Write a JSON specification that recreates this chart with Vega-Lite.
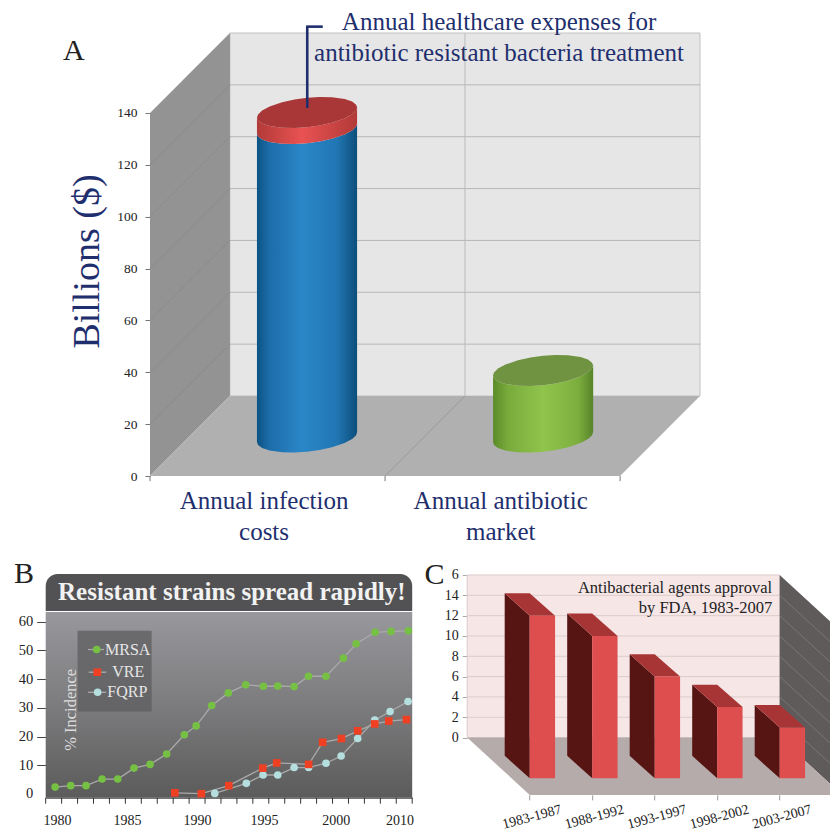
{
"$schema":"https://vega.github.io/schema/vega-lite/v6.json",
"autosize":{"type":"none"},
"padding":{"left":45.7,"right":784.3,"top":33,"bottom":802},
"background":"white",
"config":{"font":"Liberation Serif","view":{"stroke":null},"text":{"font":"Liberation Serif"},"axis":{"grid":false,"labelOverlap":false,"labelFont":"Liberation Serif","titleFont":"Liberation Serif"}},
"datasets":{
"cylinders":[
{"part":"blueBody","x":0.455,"y":13.07,"y2":132.07},{"part":"blueBody","x":0.46,"y":11.98,"y2":130.98},{"part":"blueBody","x":0.477,"y":10.79,"y2":129.79},{"part":"blueBody","x":0.509,"y":9.8,"y2":128.8},{"part":"blueBody","x":0.562,"y":9.12,"y2":128.12},{"part":"blueBody","x":0.615,"y":9.03,"y2":128.03},{"part":"blueBody","x":0.668,"y":9.33,"y2":128.33},{"part":"blueBody","x":0.721,"y":9.99,"y2":128.99},{"part":"blueBody","x":0.774,"y":11.06,"y2":130.06},{"part":"blueBody","x":0.828,"y":12.7,"y2":131.7},{"part":"blueBody","x":0.86,"y":14.27,"y2":133.27},{"part":"blueBody","x":0.877,"y":15.76,"y2":134.76},{"part":"blueBody","x":0.881,"y":16.93,"y2":135.93},
{"part":"redBand","x":0.455,"y":132.07,"y2":138.27},{"part":"redBand","x":0.46,"y":130.98,"y2":137.18},{"part":"redBand","x":0.477,"y":129.79,"y2":135.99},{"part":"redBand","x":0.509,"y":128.8,"y2":135},{"part":"redBand","x":0.562,"y":128.12,"y2":134.32},{"part":"redBand","x":0.615,"y":128.03,"y2":134.23},{"part":"redBand","x":0.668,"y":128.33,"y2":134.53},{"part":"redBand","x":0.721,"y":128.99,"y2":135.19},{"part":"redBand","x":0.774,"y":130.06,"y2":136.26},{"part":"redBand","x":0.828,"y":131.7,"y2":137.9},{"part":"redBand","x":0.86,"y":133.27,"y2":139.47},{"part":"redBand","x":0.877,"y":134.76,"y2":140.96},{"part":"redBand","x":0.881,"y":135.93,"y2":142.13},
{"part":"redCap","x":0.455,"y":138.27,"y2":138.27},{"part":"redCap","x":0.46,"y":137.18,"y2":139.44},{"part":"redCap","x":0.477,"y":135.99,"y2":140.93},{"part":"redCap","x":0.509,"y":135,"y2":142.5},{"part":"redCap","x":0.562,"y":134.32,"y2":144.14},{"part":"redCap","x":0.615,"y":134.23,"y2":145.21},{"part":"redCap","x":0.668,"y":134.53,"y2":145.87},{"part":"redCap","x":0.721,"y":135.19,"y2":146.17},{"part":"redCap","x":0.774,"y":136.26,"y2":146.08},{"part":"redCap","x":0.828,"y":137.9,"y2":145.4},{"part":"redCap","x":0.86,"y":139.47,"y2":144.41},{"part":"redCap","x":0.877,"y":140.96,"y2":143.22},{"part":"redCap","x":0.881,"y":142.13,"y2":142.13},
{"part":"greenBody","x":1.468,"y":13.07,"y2":38.77},{"part":"greenBody","x":1.472,"y":11.98,"y2":37.68},{"part":"greenBody","x":1.489,"y":10.79,"y2":36.49},{"part":"greenBody","x":1.521,"y":9.8,"y2":35.5},{"part":"greenBody","x":1.574,"y":9.12,"y2":34.82},{"part":"greenBody","x":1.628,"y":9.03,"y2":34.73},{"part":"greenBody","x":1.681,"y":9.33,"y2":35.03},{"part":"greenBody","x":1.734,"y":9.99,"y2":35.69},{"part":"greenBody","x":1.787,"y":11.06,"y2":36.76},{"part":"greenBody","x":1.84,"y":12.7,"y2":38.4},{"part":"greenBody","x":1.872,"y":14.27,"y2":39.97},{"part":"greenBody","x":1.889,"y":15.76,"y2":41.46},{"part":"greenBody","x":1.894,"y":16.93,"y2":42.63},
{"part":"greenCap","x":1.468,"y":38.77,"y2":38.77},{"part":"greenCap","x":1.472,"y":37.68,"y2":39.94},{"part":"greenCap","x":1.489,"y":36.49,"y2":41.43},{"part":"greenCap","x":1.521,"y":35.5,"y2":43},{"part":"greenCap","x":1.574,"y":34.82,"y2":44.64},{"part":"greenCap","x":1.628,"y":34.73,"y2":45.71},{"part":"greenCap","x":1.681,"y":35.03,"y2":46.37},{"part":"greenCap","x":1.734,"y":35.69,"y2":46.67},{"part":"greenCap","x":1.787,"y":36.76,"y2":46.58},{"part":"greenCap","x":1.84,"y":38.4,"y2":45.9},{"part":"greenCap","x":1.872,"y":39.97,"y2":44.91},{"part":"greenCap","x":1.889,"y":41.46,"y2":43.72},{"part":"greenCap","x":1.894,"y":42.63,"y2":42.63}
],
"costLevels":[{"level":0,"back":30.85},{"level":20,"back":50.85},{"level":40,"back":70.85},{"level":60,"back":90.85},{"level":80,"back":110.85},{"level":100,"back":130.85},{"level":120,"back":150.85},{"level":140,"back":170.85}],
"resistance":[
{"series":"MRSA","step":0.59,"incidence":2.4},{"series":"MRSA","step":1.57,"incidence":2.9},{"series":"MRSA","step":2.53,"incidence":2.9},{"series":"MRSA","step":3.54,"incidence":5.2},{"series":"MRSA","step":4.52,"incidence":5.2},{"series":"MRSA","step":5.54,"incidence":9},{"series":"MRSA","step":6.55,"incidence":10.3},{"series":"MRSA","step":7.59,"incidence":13.9},{"series":"MRSA","step":8.7,"incidence":20.6},{"series":"MRSA","step":9.44,"incidence":23.7},{"series":"MRSA","step":10.42,"incidence":30.8},{"series":"MRSA","step":11.46,"incidence":35.2},{"series":"MRSA","step":12.55,"incidence":38},{"series":"MRSA","step":13.66,"incidence":37.5},{"series":"MRSA","step":14.56,"incidence":37.6},{"series":"MRSA","step":15.59,"incidence":37.4},{"series":"MRSA","step":16.49,"incidence":41},{"series":"MRSA","step":17.59,"incidence":41},{"series":"MRSA","step":18.68,"incidence":47.3},{"series":"MRSA","step":19.48,"incidence":52.3},{"series":"MRSA","step":20.67,"incidence":56.3},{"series":"MRSA","step":21.67,"incidence":56.6},{"series":"MRSA","step":22.76,"incidence":56.8},
{"series":"VRE","step":8.1,"incidence":0.4},{"series":"VRE","step":9.77,"incidence":0.1},{"series":"VRE","step":11.49,"incidence":2.9},{"series":"VRE","step":13.62,"incidence":9},{"series":"VRE","step":14.5,"incidence":10.8},{"series":"VRE","step":16.5,"incidence":10.3},{"series":"VRE","step":17.38,"incidence":18},{"series":"VRE","step":18.56,"incidence":19.3},{"series":"VRE","step":19.58,"incidence":22},{"series":"VRE","step":20.65,"incidence":24.4},{"series":"VRE","step":21.53,"incidence":25.4},{"series":"VRE","step":22.64,"incidence":25.9},
{"series":"FQRP","step":10.61,"incidence":0.2},{"series":"FQRP","step":12.59,"incidence":3.7},{"series":"FQRP","step":13.64,"incidence":6.6},{"series":"FQRP","step":14.56,"incidence":6.6},{"series":"FQRP","step":15.59,"incidence":9.2},{"series":"FQRP","step":16.5,"incidence":9.2},{"series":"FQRP","step":17.59,"incidence":10.7},{"series":"FQRP","step":18.54,"incidence":13.2},{"series":"FQRP","step":19.58,"incidence":19.3},{"series":"FQRP","step":20.65,"incidence":25.7},{"series":"FQRP","step":21.61,"incidence":28.7},{"series":"FQRP","step":22.74,"incidence":32.2}
],
"legendEntries":[
{"series":"MRSA","key":3.2,"stub":2.66,"stubEnd":3.66,"labelAt":3.72,"row":50.3},
{"series":"VRE","key":3.24,"stub":2.7,"stubEnd":3.8,"labelAt":4.18,"row":42.4},
{"series":"FQRP","key":3.26,"stub":2.66,"stubEnd":3.8,"labelAt":3.87,"row":35.4}
],
"yearTicks":[{"t":0},{"t":1},{"t":2},{"t":3},{"t":4},{"t":5},{"t":6},{"t":7},{"t":8},{"t":9},{"t":10},{"t":11},{"t":12},{"t":13},{"t":14},{"t":15},{"t":16},{"t":17},{"t":18},{"t":19},{"t":20},{"t":21},{"t":22},{"t":23}],
"approvals":[
{"period":"1983-1987","pos":0,"edge":0.406,"approved":16},
{"period":"1988-1992","pos":1,"edge":1.406,"approved":14},
{"period":"1993-1997","pos":2,"edge":2.406,"approved":10},
{"period":"1998-2002","pos":3,"edge":3.406,"approved":7},
{"period":"2003-2007","pos":4,"edge":4.406,"approved":5}
],
"barSides":[
{"period":"1983-1987","x":-0.4,"low":2.2,"high":18.2},{"period":"1983-1987","x":0,"low":0,"high":16},
{"period":"1988-1992","x":0.6,"low":2.2,"high":16.2},{"period":"1988-1992","x":1,"low":0,"high":14},
{"period":"1993-1997","x":1.6,"low":2.2,"high":12.2},{"period":"1993-1997","x":2,"low":0,"high":10},
{"period":"1998-2002","x":2.6,"low":2.2,"high":9.2},{"period":"1998-2002","x":3,"low":0,"high":7},
{"period":"2003-2007","x":3.6,"low":2.2,"high":7.2},{"period":"2003-2007","x":4,"low":0,"high":5}
],
"barTops":[
{"period":"1983-1987","y":18.2,"x":-0.4,"x2":0},{"period":"1983-1987","y":16,"x":0,"x2":0.406},
{"period":"1988-1992","y":16.2,"x":0.6,"x2":1},{"period":"1988-1992","y":14,"x":1,"x2":1.406},
{"period":"1993-1997","y":12.2,"x":1.6,"x2":2},{"period":"1993-1997","y":10,"x":2,"x2":2.406},
{"period":"1998-2002","y":9.2,"x":2.6,"x2":3},{"period":"1998-2002","y":7,"x":3,"x2":3.406},
{"period":"2003-2007","y":7.2,"x":3.6,"x2":4},{"period":"2003-2007","y":5,"x":4,"x2":4.406}
],
"approvalGrid":[{"level":0,"side":-5.64},{"level":2,"side":-3.64},{"level":4,"side":-1.64},{"level":6,"side":0.36},{"level":8,"side":2.36},{"level":10,"side":4.36},{"level":12,"side":6.36},{"level":14,"side":8.36},{"level":16,"side":10.36}]
},
"vconcat":[
{
"width":654.3,"height":443,
"layer":[
{"data":{"values":[{}]},"mark":{"type":"rect","color":"#e6e6e6","stroke":"#c2c2c2","strokeWidth":1},
 "encoding":{
  "x":{"datum":0.34,"type":"quantitative","scale":{"domain":[-0.4438,2.34],"nice":false,"zero":false},
   "axis":{"values":[0.483,1.49],"title":"","domain":false,"ticks":false,"labelExpr":"datum.value<1?['Annual infection','costs']:['Annual antibiotic','market']","labelFontSize":25,"labelLineHeight":31,"labelColor":"#1f2f6e","labelPadding":12,"labelBaseline":"top"}},
  "x2":{"datum":2.34},
  "y":{"datum":30.85,"type":"quantitative","scale":{"domain":[0,170.85],"nice":false,"zero":false},
   "axis":{"values":[0,20,40,60,80,100,120,140],"tickCount":20,"offset":-104.3,"title":"Billions ($)","titleFontSize":38,"titleColor":"#1f2f6e","titleX":-63,"titleY":228,"titleAnchor":"middle","titleBaseline":"middle","titleFontWeight":"normal","domain":false,"tickSize":5,"tickColor":"#777777","labelFontSize":13.5,"labelColor":"#222222","labelPadding":8}},
  "y2":{"datum":170.85}}},
{"data":{"name":"costLevels"},"transform":[{"filter":"datum.level>0 && datum.level<140"}],"mark":{"type":"rule","color":"#bab6b6","strokeWidth":1},
 "encoding":{"x":{"datum":0.34,"type":"quantitative"},"x2":{"datum":2.34},"y":{"field":"back","type":"quantitative"}}},
{"data":{"values":[{}]},"mark":{"type":"rule","color":"#bcbcbc","strokeWidth":1},
 "encoding":{"x":{"datum":1.34,"type":"quantitative"},"y":{"datum":30.85,"type":"quantitative"},"y2":{"datum":170.85}}},
{"data":{"values":[{"x":0,"y":0,"y2":140},{"x":0.34,"y":30.85,"y2":170.85}]},"mark":{"type":"area","color":"#939393","orient":"vertical"},
 "encoding":{"x":{"field":"x","type":"quantitative"},"y":{"field":"y","type":"quantitative","stack":null},"y2":{"field":"y2"}}},
{"data":{"values":[{"y":0,"x":0,"x2":2},{"y":30.85,"x":0.34,"x2":2.34}]},"mark":{"type":"area","color":"#b0b0b0","orient":"horizontal"},
 "encoding":{"y":{"field":"y","type":"quantitative"},"x":{"field":"x","type":"quantitative","stack":null},"x2":{"field":"x2"}}},
{"data":{"name":"costLevels"},"transform":[{"filter":"datum.level>0 && datum.level<140"}],"mark":{"type":"rule","color":"#8b8b8b","strokeWidth":1},
 "encoding":{"x":{"datum":0,"type":"quantitative"},"x2":{"datum":0.34},"y":{"field":"level","type":"quantitative"},"y2":{"field":"back"}}},
{"data":{"values":[{}]},"mark":{"type":"rule","color":"#9c9c9c","strokeWidth":1},
 "encoding":{"x":{"datum":1,"type":"quantitative"},"x2":{"datum":1.34},"y":{"datum":0,"type":"quantitative"},"y2":{"datum":30.85}}},
{"data":{"name":"cylinders"},"transform":[{"filter":"datum.part==='blueBody'"}],
 "mark":{"type":"area","orient":"vertical","color":{"gradient":"linear","x1":0,"y1":0,"x2":1,"y2":0,"stops":[{"offset":0,"color":"#0b5383"},{"offset":0.12,"color":"#1c6ca9"},{"offset":0.45,"color":"#2b87c8"},{"offset":0.8,"color":"#2176b3"},{"offset":1,"color":"#0c4e7b"}]}},
 "encoding":{"x":{"field":"x","type":"quantitative"},"y":{"field":"y","type":"quantitative","stack":null},"y2":{"field":"y2"}}},
{"data":{"name":"cylinders"},"transform":[{"filter":"datum.part==='redBand'"}],
 "mark":{"type":"area","orient":"vertical","color":{"gradient":"linear","x1":0,"y1":0,"x2":1,"y2":0,"stops":[{"offset":0,"color":"#b23a38"},{"offset":0.45,"color":"#e95252"},{"offset":1,"color":"#b23a38"}]}},
 "encoding":{"x":{"field":"x","type":"quantitative"},"y":{"field":"y","type":"quantitative","stack":null},"y2":{"field":"y2"}}},
{"data":{"name":"cylinders"},"transform":[{"filter":"datum.part==='redCap'"}],
 "mark":{"type":"area","orient":"vertical","color":"#a93737"},
 "encoding":{"x":{"field":"x","type":"quantitative"},"y":{"field":"y","type":"quantitative","stack":null},"y2":{"field":"y2"}}},
{"data":{"name":"cylinders"},"transform":[{"filter":"datum.part==='greenBody'"}],
 "mark":{"type":"area","orient":"vertical","xOffset":-2,"color":{"gradient":"linear","x1":0,"y1":0,"x2":1,"y2":0,"stops":[{"offset":0,"color":"#5b8b2a"},{"offset":0.15,"color":"#79ab3c"},{"offset":0.5,"color":"#90c44c"},{"offset":0.85,"color":"#7cae3e"},{"offset":1,"color":"#578429"}]}},
 "encoding":{"x":{"field":"x","type":"quantitative"},"y":{"field":"y","type":"quantitative","stack":null},"y2":{"field":"y2"}}},
{"data":{"name":"cylinders"},"transform":[{"filter":"datum.part==='greenCap'"}],
 "mark":{"type":"area","orient":"vertical","xOffset":-2,"color":"#6f9340"},
 "encoding":{"x":{"field":"x","type":"quantitative"},"y":{"field":"y","type":"quantitative","stack":null},"y2":{"field":"y2"}}},
{"data":{"values":[{"t":0},{"t":1},{"t":2}]},"mark":{"type":"rule","color":"#777777"},
 "encoding":{"x":{"field":"t","type":"quantitative"},"y":{"datum":0,"type":"quantitative"},"y2":{"datum":-2}}},
{"data":{"values":[{}]},"mark":{"type":"rule","color":"#1f2f6e","strokeWidth":2.6},
 "encoding":{"x":{"datum":0.669,"type":"quantitative"},"y":{"datum":141.9,"type":"quantitative"},"y2":{"datum":173.3}}},
{"data":{"values":[{}]},"mark":{"type":"rule","color":"#1f2f6e","strokeWidth":2.6},
 "encoding":{"x":{"datum":0.664,"type":"quantitative"},"x2":{"datum":0.735},"y":{"datum":173.3,"type":"quantitative"}}},
{"data":{"values":[{}]},"mark":{"type":"text","fontSize":25,"color":"#1f2f6e","baseline":"middle"},
 "encoding":{"x":{"datum":1.485,"type":"quantitative"},"y":{"datum":175,"type":"quantitative"},"text":{"value":"Annual healthcare expenses for"}}},
{"data":{"values":[{}]},"mark":{"type":"text","fontSize":25,"color":"#1f2f6e","baseline":"middle"},
 "encoding":{"x":{"datum":1.485,"type":"quantitative"},"y":{"datum":163,"type":"quantitative"},"text":{"value":"antibiotic resistant bacteria treatment"}}},
{"data":{"values":[{}]},"mark":{"type":"text","fontSize":30,"color":"#222222","align":"left","baseline":"alphabetic"},
 "encoding":{"x":{"datum":-0.37,"type":"quantitative"},"y":{"datum":160.4,"type":"quantitative"},"text":{"value":"A"}}}
]
},
{
"hconcat":[
{
"width":366.5,"height":223.7,
"layer":[
{"data":{"values":[{}]},"mark":{"type":"rect","color":{"gradient":"linear","x1":0,"y1":0,"x2":0,"y2":1,"stops":[{"offset":0,"color":"#98989d"},{"offset":0.5,"color":"#7c7c7e"},{"offset":1,"color":"#5b5b5b"}]}},
 "encoding":{
  "x":{"datum":0,"type":"quantitative","scale":{"domain":[0,23],"nice":false,"zero":false},
   "axis":{"values":[0.71,5.1,9.5,13.7,18.2,22.2],"tickCount":20,"title":"","domain":true,"domainColor":"#333333","ticks":false,"labelExpr":"datum.value<1?'1980':datum.value<6?'1985':datum.value<10?'1990':datum.value<14?'1995':datum.value<19?'2000':'2010'","labelFontSize":14,"labelColor":"#222222","labelPadding":16}},
  "x2":{"datum":23},
  "y":{"datum":-1.3,"type":"quantitative","scale":{"domain":[-1.3,76.6],"nice":false,"zero":false},
   "axis":{"values":[0,10,20,30,40,50,60],"tickCount":20,"title":"","domain":false,"tickSize":9,"tickColor":"#444444","tickOpacity":{"condition":{"test":"datum.value===0","value":0},"value":1},"labelFontSize":14.5,"labelColor":"#222222","labelPadding":4}},
  "y2":{"datum":63.4}}},
{"data":{"values":[{}]},"mark":{"type":"rect","color":"#525254","cornerRadiusTopLeft":12,"cornerRadiusTopRight":12},
 "encoding":{"x":{"datum":0,"type":"quantitative"},"x2":{"datum":23},"y":{"datum":63.7,"type":"quantitative"},"y2":{"datum":76.6}}},
{"data":{"values":[{}]},"mark":{"type":"rect","color":"#5e5e60","opacity":0.75},
 "encoding":{"x":{"datum":2,"type":"quantitative"},"x2":{"datum":6.65},"y":{"datum":28.7,"type":"quantitative"},"y2":{"datum":56.8}}},
{"data":{"name":"yearTicks"},"mark":{"type":"rule","color":"#333333"},
 "encoding":{"x":{"field":"t","type":"quantitative"},"y":{"datum":-1.3,"type":"quantitative"},"y2":{"datum":-3.4}}},
{"data":{"name":"resistance"},"mark":{"type":"line","color":"#aaaaaa","strokeWidth":1.3},
 "encoding":{"x":{"field":"step","type":"quantitative"},"y":{"field":"incidence","type":"quantitative"},"detail":{"field":"series"}}},
{"data":{"name":"legendEntries"},"mark":{"type":"rule","color":"#aaaaaa","strokeWidth":1.3},
 "encoding":{"x":{"field":"stub","type":"quantitative"},"x2":{"field":"stubEnd"},"y":{"field":"row","type":"quantitative"}}},
{"data":{"name":"resistance"},"transform":[{"filter":"datum.series!=='VRE'"}],"mark":{"type":"circle","size":58,"opacity":1},
 "encoding":{"x":{"field":"step","type":"quantitative"},"y":{"field":"incidence","type":"quantitative"},
  "color":{"field":"series","type":"nominal","scale":{"domain":["MRSA","VRE","FQRP"],"range":["#76c043","#ef4023","#b5dfdf"]},"legend":null}}},
{"data":{"name":"resistance"},"transform":[{"filter":"datum.series==='VRE'"}],"mark":{"type":"square","size":58,"opacity":1,"filled":true},
 "encoding":{"x":{"field":"step","type":"quantitative"},"y":{"field":"incidence","type":"quantitative"},
  "color":{"field":"series","type":"nominal","legend":null}}},
{"data":{"name":"legendEntries"},"transform":[{"filter":"datum.series!=='VRE'"}],"mark":{"type":"circle","size":58,"opacity":1},
 "encoding":{"x":{"field":"key","type":"quantitative"},"y":{"field":"row","type":"quantitative"},
  "color":{"field":"series","type":"nominal","legend":null}}},
{"data":{"name":"legendEntries"},"transform":[{"filter":"datum.series==='VRE'"}],"mark":{"type":"square","size":58,"opacity":1,"filled":true},
 "encoding":{"x":{"field":"key","type":"quantitative"},"y":{"field":"row","type":"quantitative"},
  "color":{"field":"series","type":"nominal","legend":null}}},
{"data":{"name":"legendEntries"},"mark":{"type":"text","fontSize":16,"color":"#e6e6e6","align":"left","baseline":"middle"},
 "encoding":{"x":{"field":"labelAt","type":"quantitative"},"y":{"field":"row","type":"quantitative"},"text":{"field":"series"}}},
{"data":{"values":[{}]},"mark":{"type":"text","fontSize":16.5,"color":"#dddddd","angle":270,"baseline":"middle"},
 "encoding":{"x":{"datum":1.59,"type":"quantitative"},"y":{"datum":29.3,"type":"quantitative"},"text":{"value":"% Incidence"}}},
{"data":{"values":[{}]},"mark":{"type":"text","fontSize":25,"fontWeight":"bold","color":"#f2f2f2","baseline":"middle"},
 "encoding":{"x":{"datum":11.68,"type":"quantitative"},"y":{"datum":70.5,"type":"quantitative"},"text":{"value":"Resistant strains spread rapidly!"}}},
{"data":{"values":[{}]},"mark":{"type":"text","fontSize":30,"color":"#222222","align":"left","baseline":"alphabetic"},
 "encoding":{"x":{"datum":-1.99,"type":"quantitative"},"y":{"datum":73.5,"type":"quantitative"},"text":{"value":"B"}}}
]
},
{
"width":363.3,"height":220.9,
"layer":[
{"data":{"values":[{}]},"mark":{"type":"rect","color":"#f6e6e6","stroke":"#dccccc"},
 "encoding":{
  "x":{"datum":-1,"type":"quantitative","scale":{"domain":[-1,4.813],"nice":false,"zero":false},
   "axis":{"values":[0,1,2,3,4],"tickCount":20,"title":"","domain":false,"tickSize":5,"tickColor":"#999999","labelExpr":"['1983-1987','1988-1992','1993-1997','1998-2002','2003-2007'][datum.value]","labelAngle":-15,"labelAlign":"center","labelBaseline":"top","labelFontSize":14,"labelColor":"#222222","labelPadding":10}},
  "x2":{"datum":4},
  "y":{"datum":0,"type":"quantitative","scale":{"domain":[-5.64,16.098],"nice":false,"zero":false},
   "axis":{"values":[0,2,4,6,8,10,12,14,16],"tickCount":20,"title":"","domain":false,"tickSize":5,"tickColor":"#aaaaaa","labelExpr":"datum.value===16?'6':datum.label","labelFontSize":14,"labelColor":"#222222","labelPadding":4}},
  "y2":{"datum":16}}},
{"data":{"name":"approvalGrid"},"transform":[{"filter":"datum.level>0 && datum.level<16"}],"mark":{"type":"rule","color":"#dccccc","strokeWidth":1},
 "encoding":{"x":{"datum":-1,"type":"quantitative"},"x2":{"datum":4},"y":{"field":"level","type":"quantitative"}}},
{"data":{"values":[{"x":4,"y":0,"y2":16},{"x":5,"y":-5.64,"y2":10.36}]},"mark":{"type":"area","color":"#5f5b5b","orient":"vertical","clip":true},
 "encoding":{"x":{"field":"x","type":"quantitative"},"y":{"field":"y","type":"quantitative","stack":null},"y2":{"field":"y2"}}},
{"data":{"name":"approvalGrid"},"transform":[{"filter":"datum.level<16 && datum.level>0"}],"mark":{"type":"rule","color":"#7b7676","strokeWidth":1,"clip":true},
 "encoding":{"x":{"datum":4,"type":"quantitative"},"x2":{"datum":5},"y":{"field":"level","type":"quantitative"},"y2":{"field":"side"}}},
{"data":{"values":[{"y":0,"x":-1,"x2":4},{"y":-5.64,"x":0,"x2":5}]},"mark":{"type":"area","color":"#b6abab","orient":"horizontal","clip":true},
 "encoding":{"y":{"field":"y","type":"quantitative"},"x":{"field":"x","type":"quantitative","stack":null},"x2":{"field":"x2"}}},
{"data":{"name":"barSides"},"mark":{"type":"area","color":"#561513","orient":"vertical","yOffset":40.64,"y2Offset":40.64},
 "encoding":{"x":{"field":"x","type":"quantitative"},"y":{"field":"low","type":"quantitative","stack":null},"y2":{"field":"high"},"detail":{"field":"period"}}},
{"data":{"name":"barTops"},"mark":{"type":"area","color":"#a83535","orient":"horizontal","yOffset":40.64,"y2Offset":40.64},
 "encoding":{"y":{"field":"y","type":"quantitative"},"x":{"field":"x","type":"quantitative","stack":null},"x2":{"field":"x2"},"detail":{"field":"period"}}},
{"data":{"name":"approvals"},"mark":{"type":"rect","color":"#df4e4e","yOffset":40.64,"y2Offset":40.64},
 "encoding":{"x":{"field":"pos","type":"quantitative"},"x2":{"field":"edge"},"y":{"field":"approved","type":"quantitative"},"y2":{"datum":0}}},
{"data":{"values":[{}]},"mark":{"type":"text","fontSize":16.5,"color":"#222222","align":"right","baseline":"middle"},
 "encoding":{"x":{"datum":3.88,"type":"quantitative"},"y":{"datum":14.73,"type":"quantitative"},"text":{"value":"Antibacterial agents approval"}}},
{"data":{"values":[{}]},"mark":{"type":"text","fontSize":16.5,"color":"#222222","align":"right","baseline":"middle"},
 "encoding":{"x":{"datum":3.88,"type":"quantitative"},"y":{"datum":12.77,"type":"quantitative"},"text":{"value":"by FDA, 1983-2007"}}},
{"data":{"values":[{}]},"mark":{"type":"text","fontSize":30,"color":"#222222","align":"left","baseline":"alphabetic"},
 "encoding":{"x":{"datum":-1.685,"type":"quantitative"},"y":{"datum":15.1,"type":"quantitative"},"text":{"value":"C"}}}
]
}
],
"spacing":54.5,
"bounds":"flush"
}
],
"spacing":98,
"bounds":"flush"
}
